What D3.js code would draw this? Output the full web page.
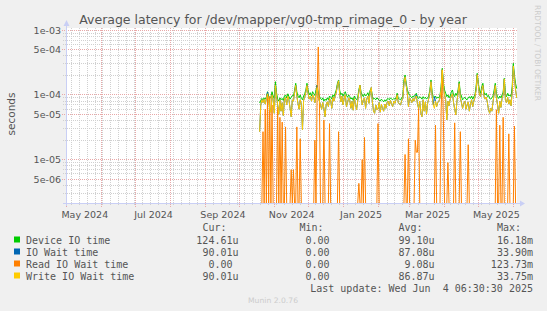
<!DOCTYPE html>
<html>
<head>
<meta charset="utf-8">
<script src="https://cdn.jsdelivr.net/npm/d3@7"></script>
<style>
html, body { margin: 0; padding: 0; background: #f0f0f0; }
svg { display: block; }
text { font-family: "DejaVu Sans", sans-serif; fill: #555; }
.mono { font-family: "DejaVu Sans Mono", monospace; font-size: 10px; white-space: pre; }
</style>
</head>
<body>
<script>
// daily averages in microseconds, one value per day starting 2024-10-19
var firstDay = new Date(2024, 9, 19);

var deviceIO = [
  75, 82, 88, 84, 90, 86, 92, 112, 95, 88,
  92, 112, 96, 88, 160, 108, 86, 80, 90, 84,
  88, 82, 96, 100, 90, 104, 94, 86, 92, 98,
  96, 118, 151, 112, 96, 90, 100, 88, 84, 96,
  104, 120, 151, 118, 100, 108, 96, 112, 104, 98,
  118, 142, 106, 96, 88, 84, 90, 80, 86, 82,
  90, 84, 96, 92, 86, 100, 94, 106, 120, 150,
  170, 118, 100, 106, 96, 104, 112, 98, 92, 100,
  94, 86, 90, 82, 96, 88, 84, 92, 120, 142,
  110, 100, 94, 104, 96, 100, 108, 96, 118, 124,
  94, 86, 88, 84, 90, 86, 84, 80, 86, 82,
  78, 84, 80, 86, 88, 84, 90, 86, 84, 88,
  86, 90, 106, 88, 86, 84, 90, 96, 170, 203,
  153, 120, 107, 100, 94, 90, 96, 94, 100, 106,
  92, 88, 94, 90, 86, 94, 88, 92, 86, 90,
  96, 120, 170, 110, 94, 90, 96, 88, 92, 90,
  100, 134, 257, 150, 119, 106, 94, 100, 90, 96,
  110, 119, 100, 94, 106, 98, 120, 160, 106, 96,
  84, 88, 92, 86, 84, 90, 94, 88, 96, 86,
  94, 100, 134, 215, 150, 119, 106, 134, 151, 110,
  100, 106, 94, 98, 88, 86, 90, 96, 119, 151,
  106, 94, 88, 96, 90, 100, 110, 180, 100, 94,
  106, 96, 100, 94, 134, 307, 200, 150, 125
];

var ioWait = [
  27, 70, 84, 76, 86, 72, 88, 110, 82, 60,
  54, 100, 84, 52, 140, 96, 70, 50, 84, 56,
  76, 48, 86, 92, 70, 96, 84, 62, 46, 84,
  80, 108, 140, 96, 74, 60, 84, 72, 29, 82,
  92, 110, 140, 104, 86, 96, 80, 100, 92, 76,
  104, 140, 92, 80, 70, 60, 76, 62, 46, 70,
  78, 66, 88, 80, 62, 92, 80, 96, 110, 140,
  165, 104, 78, 96, 70, 88, 100, 66, 76, 90,
  82, 62, 80, 58, 88, 72, 59, 80, 110, 142,
  96, 70, 84, 90, 62, 86, 96, 74, 110, 130,
  80, 56, 52, 70, 59, 60, 76, 54, 72, 62,
  56, 72, 62, 76, 80, 68, 82, 72, 66, 80,
  74, 84, 100, 76, 72, 70, 82, 88, 150, 190,
  140, 108, 66, 90, 84, 76, 88, 80, 92, 100,
  72, 62, 80, 52, 46, 84, 56, 78, 50, 74,
  88, 110, 160, 96, 70, 94, 80, 66, 76, 80,
  90, 125, 245, 140, 100, 84, 41, 80, 68, 86,
  96, 104, 76, 60, 49, 80, 106, 150, 90, 76,
  62, 74, 80, 60, 70, 78, 56, 72, 84, 66,
  80, 92, 120, 205, 140, 100, 94, 120, 140, 96,
  86, 92, 76, 59, 52, 62, 56, 78, 104, 140,
  90, 70, 52, 80, 64, 88, 100, 175, 84, 76,
  92, 72, 84, 68, 110, 280, 180, 120, 90
];

var readWait = [
  0, 0, 0, 27, 0, 60, 0, 100, 0, 95,
  0, 70, 0, 0, 0, 0, 65, 0, 45, 0,
  38, 0, 0, 32, 0, 0, 0, 0, 7, 0,
  7, 0, 0, 32, 0, 0, 21, 0, 0, 0,
  0, 0, 0, 0, 0, 0, 0, 0, 0, 20,
  0, 110, 550, 90, 0, 0, 0, 41, 0, 0,
  0, 0, 36, 0, 0, 0, 0, 0, 0, 0,
  27, 0, 0, 0, 0, 0, 0, 0, 0, 0,
  0, 0, 0, 0, 0, 0, 0, 0, 4.3, 0,
  0, 10, 0, 22, 0, 0, 0, 0, 0, 0,
  0, 0, 0, 0, 0, 36, 0, 0, 0, 0,
  0, 0, 0, 0, 0, 0, 0, 0, 0, 0,
  0, 0, 0, 0, 0, 0, 0, 0, 0, 12,
  0, 0, 21, 0, 0, 0, 0, 0, 20, 13,
  13, 62, 0, 0, 0, 0, 0, 0, 0, 0,
  0, 0, 0, 0, 0, 0, 34, 0, 0, 0,
  0, 60, 242, 40, 0, 0, 0, 9, 0, 0,
  0, 0, 0, 37, 0, 0, 0, 0, 27, 0,
  0, 0, 0, 0, 0, 17, 0, 0, 0, 0,
  0, 0, 0, 0, 0, 0, 0, 0, 0, 0,
  0, 0, 0, 0, 0, 0, 0, 0, 0, 0,
  59, 0, 0, 34, 0, 0, 45, 0, 0, 0,
  0, 25, 0, 0, 0, 0, 33, 0, 0
];

var writeWait = [
  27, 70, 84, 76, 86, 72, 88, 104, 82, 60,
  54, 100, 84, 52, 140, 96, 70, 50, 84, 56,
  76, 48, 86, 92, 70, 96, 84, 62, 46, 84,
  80, 108, 140, 96, 74, 60, 84, 72, 29, 82,
  92, 110, 140, 104, 86, 96, 80, 100, 92, 76,
  104, 130, 92, 80, 70, 60, 76, 62, 46, 70,
  78, 66, 88, 80, 62, 92, 80, 96, 110, 140,
  165, 104, 78, 96, 70, 88, 100, 66, 76, 90,
  82, 62, 80, 58, 88, 72, 59, 80, 110, 142,
  96, 70, 84, 90, 62, 86, 96, 74, 110, 130,
  80, 56, 52, 70, 59, 60, 76, 54, 72, 62,
  56, 72, 62, 76, 80, 68, 82, 72, 66, 80,
  74, 84, 100, 76, 72, 70, 82, 88, 150, 190,
  140, 108, 66, 90, 84, 76, 88, 80, 92, 96,
  72, 62, 80, 52, 46, 84, 56, 78, 50, 74,
  88, 110, 160, 96, 70, 62, 80, 66, 76, 80,
  90, 125, 245, 140, 100, 84, 41, 80, 68, 86,
  96, 104, 76, 60, 49, 80, 106, 150, 90, 76,
  62, 74, 80, 60, 70, 78, 56, 72, 84, 66,
  80, 92, 120, 205, 140, 100, 94, 120, 140, 96,
  86, 92, 76, 59, 52, 62, 56, 78, 104, 140,
  90, 70, 52, 80, 64, 88, 100, 175, 84, 76,
  92, 72, 84, 68, 110, 280, 180, 120, 90
];

var seriesNames = ["Device IO time", "IO Wait time", "Read IO Wait time", "Write IO Wait time"];
var seriesColors = ["#00cc00", "#0066b3", "#ff8000", "#ffcc00"];
var curValues = ["124.61u", "90.01u", "0.00", "90.01u"];
var minValues = ["0.00", "0.00", "0.00", "0.00"];
var avgValues = ["99.10u", "87.08u", "9.08u", "86.87u"];
var maxValues = ["16.18m", "33.90m", "123.73m", "33.75m"];

var yTicks = [1e-3, 5e-4, 1e-4, 5e-5, 1e-5, 5e-6];
var yTickLabels = ["1e-03", "5e-04", "1e-04", "5e-05", "1e-05", "5e-06"];
var xLabelMonths = [new Date(2024, 4, 1), new Date(2024, 6, 1), new Date(2024, 8, 1), new Date(2024, 10, 1),
                    new Date(2025, 0, 1), new Date(2025, 2, 1), new Date(2025, 4, 1)];
var xLabels = ["May 2024", "Jul 2024", "Sep 2024", "Nov 2024", "Jan 2025", "Mar 2025", "May 2025"];

var width = 547, height = 311;
var plotLeft = 66, plotRight = 517, plotTop = 28.5, plotBottom = 203.5;

var svg = d3.select("body").append("svg").attr("width", width).attr("height", height);
svg.append("rect").attr("width", "100%").attr("height", "100%").attr("fill", "#f0f0f0");

var x = d3.scaleTime()
  .domain([new Date(2024, 3, 30, 6, 30, 30), new Date(2025, 5, 4, 6, 30, 30)])
  .range([plotLeft, plotRight]);
var y = d3.scaleLog().domain([2.1e-6, 1.06e-3]).range([plotBottom, plotTop]);
var yMin = y.domain()[0];

var dates = deviceIO.map(function(d, i) { return d3.timeDay.offset(firstDay, i); });

svg.append("rect").attr("x", plotLeft).attr("y", 28).attr("width", plotRight - plotLeft)
  .attr("height", plotBottom - 28).attr("fill", "#ffffff");

function px(v) { return Math.round(v - 0.5) + 0.5; }

// minor grid
var weeks = d3.timeSunday.range(x.domain()[0], x.domain()[1]);
svg.append("g").selectAll("line").data(weeks).enter().append("line")
  .attr("x1", function(d) { return px(x(d)); }).attr("x2", function(d) { return px(x(d)); })
  .attr("y1", 28).attr("y2", 206)
  .attr("stroke", "#d0d0d0").attr("stroke-dasharray", "1,1");

var minorY = y.ticks().filter(function(t) { return yTicks.indexOf(t) < 0; });
svg.append("g").selectAll("line").data(minorY).enter().append("line")
  .attr("x1", 63).attr("x2", plotRight)
  .attr("y1", function(d) { return px(y(d)); }).attr("y2", function(d) { return px(y(d)); })
  .attr("stroke", "#d0d0d0").attr("stroke-dasharray", "1,1");

// major grid
var months = d3.timeMonth.range(x.domain()[0], x.domain()[1]);
svg.append("g").selectAll("line").data(months).enter().append("line")
  .attr("x1", function(d) { return px(x(d)); }).attr("x2", function(d) { return px(x(d)); })
  .attr("y1", 28).attr("y2", 207)
  .attr("stroke", "#e8a8a8").attr("stroke-dasharray", "1,1");

svg.append("g").selectAll("line").data(yTicks).enter().append("line")
  .attr("x1", 62).attr("x2", plotRight)
  .attr("y1", function(d) { return px(y(d)); }).attr("y2", function(d) { return px(y(d)); })
  .attr("stroke", "#e8a8a8").attr("stroke-dasharray", "1,1");

// data
svg.append("clipPath").attr("id", "plot").append("rect")
  .attr("x", plotLeft).attr("y", plotTop - 1).attr("width", plotRight - plotLeft + 1)
  .attr("height", plotBottom - plotTop + 2);

var line = d3.line()
  .x(function(d, i) { return x(dates[i]); })
  .y(function(d) { return y(Math.max(d * 1e-6, yMin)); });

var plot = svg.append("g").attr("clip-path", "url(#plot)");
[deviceIO, ioWait, readWait, writeWait].forEach(function(s, k) {
  plot.append("path").datum(s).attr("d", line)
    .attr("fill", "none").attr("stroke", seriesColors[k]).attr("stroke-width", 1);
});

// axes lines and arrows
var axisColor = "#c9cff5";
svg.append("line").attr("x1", 63).attr("x2", 520).attr("y1", plotBottom).attr("y2", plotBottom)
  .attr("stroke", axisColor);
svg.append("line").attr("x1", plotLeft + 0.5).attr("x2", plotLeft + 0.5).attr("y1", 206).attr("y2", 25)
  .attr("stroke", axisColor);
svg.append("path").attr("d", "M520,200.5L525,203.5L520,206.5Z").attr("fill", axisColor);
svg.append("path").attr("d", "M63.5,26L66.5,20L69.5,26Z").attr("fill", axisColor);

// axis labels
var xAxis = svg.append("g").attr("transform", "translate(0," + plotBottom + ")")
  .call(d3.axisBottom(x)
    .tickValues(xLabelMonths.map(function(m) {
      return new Date((m.getTime() + d3.timeMonth.offset(m, 1).getTime()) / 2);
    }))
    .tickFormat(function(d, i) { return xLabels[i]; })
    .tickSize(0).tickPadding(8));
xAxis.select(".domain").remove();
xAxis.selectAll("text").style("font-family", "DejaVu Sans").style("font-size", "9.5px").attr("fill", "#555");

var yAxis = svg.append("g").attr("transform", "translate(" + plotLeft + ",0)")
  .call(d3.axisLeft(y).tickValues(yTicks)
    .tickFormat(function(d, i) { return yTickLabels[i]; })
    .tickSize(0).tickPadding(5));
yAxis.select(".domain").remove();
yAxis.selectAll("text").style("font-family", "DejaVu Sans").style("font-size", "9.5px").attr("fill", "#555");

// titles
svg.append("text").attr("x", 273).attr("y", 23.5).attr("text-anchor", "middle")
  .style("font-size", "12.5px").text("Average latency for /dev/mapper/vg0-tmp_rimage_0 - by year");
svg.append("text").attr("transform", "translate(15,114) rotate(-90)").attr("text-anchor", "middle")
  .style("font-size", "10.5px").text("seconds");
svg.append("text").attr("transform", "translate(534.5,5) rotate(90)").attr("text-anchor", "start")
  .attr("textLength", 96).attr("lengthAdjust", "spacingAndGlyphs")
  .style("font-size", "7.8px").style("fill", "#cccccc").text("RRDTOOL / TOBI OETIKER");

// legend
var colRight = [238.5, 335.5, 434.5, 533];
var headers = ["Cur:", "Min:", "Avg:", "Max:"];
var cols = [curValues, minValues, avgValues, maxValues];
var legend = svg.append("g");
headers.forEach(function(h, c) {
  legend.append("text").attr("class", "mono").attr("x", colRight[c] - 12).attr("y", 231)
    .attr("text-anchor", "end").text(h);
});
seriesNames.forEach(function(name, r) {
  var yy = 243.5 + r * 12;
  legend.append("rect").attr("x", 14).attr("y", yy - 7).attr("width", 6).attr("height", 6)
    .attr("fill", seriesColors[r]);
  legend.append("text").attr("class", "mono").attr("x", 26).attr("y", yy).text(name);
  cols.forEach(function(col, c) {
    var s = col[r];
    var shift = /[a-z]$/i.test(s) ? 0 : 6;
    legend.append("text").attr("class", "mono").attr("x", colRight[c] - shift).attr("y", yy)
      .attr("text-anchor", "end").text(s);
  });
});
legend.append("text").attr("class", "mono").attr("x", 533).attr("y", 291.5).attr("text-anchor", "end")
  .text("Last update: Wed Jun  4 06:30:30 2025");
svg.append("text").attr("x", 273).attr("y", 303).attr("text-anchor", "middle")
  .attr("textLength", 50).attr("lengthAdjust", "spacingAndGlyphs")
  .style("font-size", "7.5px").style("fill", "#cccccc").text("Munin 2.0.76");
</script>
</body>
</html>
